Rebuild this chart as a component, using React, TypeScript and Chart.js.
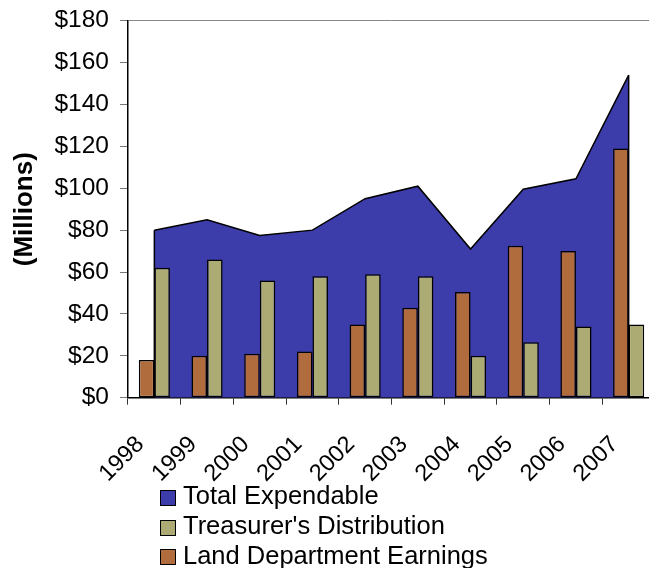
import React, { useEffect, useRef } from "react";
import { Chart, registerables } from "chart.js";

Chart.register(...registerables);

// ---- data ----
const years = ["1998", "1999", "2000", "2001", "2002", "2003", "2004", "2005", "2006", "2007"];
const totalExpendable = [80, 85, 77.5, 80, 95, 101, 71, 99.5, 104.5, 154];
const treasurerDistribution = [62, 66, 56, 58, 59, 58, 20, 26.5, 34, 35];
const landDepartmentEarnings = [18, 20, 21, 22, 35, 43, 50.5, 72.5, 70, 119];
const yMin = 0;
const yMax = 180;
const yStep = 20;

const seriesNames = ["Total Expendable", "Treasurer's Distribution", "Land Department Earnings"];

// ---- style ----
const BLUE = "#3c3caa";
const OLIVE = "#abab73";
const BROWN = "#b06c3c";
const FONT = "'Liberation Sans', Arial, sans-serif";

const areaEdges = {
  id: "areaEdges",
  afterDatasetDraw(chart: any, args: any) {
    if (args.index !== 0) return;
    const pts = args.meta.data;
    if (!pts || !pts.length) return;
    const base = chart.scales.y.getPixelForValue(0);
    const ctx = chart.ctx;
    const first = pts[0];
    const last = pts[pts.length - 1];
    ctx.save();
    ctx.strokeStyle = "#000";
    ctx.lineWidth = 1.5;
    ctx.beginPath();
    ctx.moveTo(first.x, base);
    ctx.lineTo(first.x, first.y);
    ctx.moveTo(last.x, last.y);
    ctx.lineTo(last.x, base);
    ctx.stroke();
    ctx.restore();
  },
};

export default function App() {
  const ref = useRef<HTMLCanvasElement | null>(null);

  useEffect(() => {
    if (!ref.current) return;
    const chart = new Chart(ref.current, {
      type: "bar",
      data: {
        labels: years,
        datasets: [
          {
            type: "line",
            label: seriesNames[0],
            data: totalExpendable,
            fill: "origin",
            backgroundColor: BLUE,
            borderColor: "#000",
            borderWidth: 1.5,
            pointRadius: 0,
            tension: 0,
            order: 2,
          } as any,
          {
            type: "bar",
            label: seriesNames[2],
            data: landDepartmentEarnings,
            backgroundColor: BROWN,
            borderColor: "#000",
            borderWidth: 1.5,
            borderSkipped: false,
            categoryPercentage: 0.59,
            barPercentage: 1,
            order: 1,
          },
          {
            type: "bar",
            label: seriesNames[1],
            data: treasurerDistribution,
            backgroundColor: OLIVE,
            borderColor: "#000",
            borderWidth: 1.5,
            borderSkipped: false,
            categoryPercentage: 0.59,
            barPercentage: 1,
            order: 1,
          },
        ],
      },
      options: {
        responsive: false,
        animation: false,
        layout: { padding: { top: 20.7, right: 1, left: 0, bottom: 0 } },
        plugins: {
          legend: { display: false },
          tooltip: { enabled: false },
        },
        scales: {
          x: {
            offset: true,
            grid: {
              offset: true,
              drawOnChartArea: false,
              tickLength: 7,
              tickColor: "#333",
            },
            border: { color: "#000", width: 1.5 },
            ticks: {
              autoSkip: false,
              maxRotation: 45,
              minRotation: 45,
              padding: 26,
              labelOffset: -14,
              color: "#000",
              font: { family: FONT, size: 23.5 },
            },
            afterFit: (scale: any) => {
              scale.height = 170.3;
              scale.paddingLeft = 0;
              scale.paddingRight = 0;
            },
          },
          y: {
            min: yMin,
            max: yMax,
            ticks: {
              stepSize: yStep,
              padding: 11,
              color: "#000",
              font: { family: FONT, size: 24.5 },
              callback: (v: any) => "$" + v,
            },
            grid: {
              drawOnChartArea: true,
              color: (c: any) => (c.tick && c.tick.value === yMax ? "#888" : "rgba(0,0,0,0)"),
              tickColor: "#777",
              tickLength: 8,
            },
            border: { color: "#000", width: 1.5 },
            title: {
              display: true,
              text: "(Millions)",
              color: "#000",
              padding: { top: 9, bottom: 0 },
              font: { family: FONT, size: 26, weight: "bold" },
            },
            afterFit: (scale: any) => {
              scale.width = 128;
              scale.paddingTop = 0;
              scale.paddingBottom = 0;
            },
          },
        },
      },
      plugins: [areaEdges],
    });
    return () => chart.destroy();
  }, []);

  const legendItems = [
    { name: seriesNames[0], color: BLUE },
    { name: seriesNames[1], color: OLIVE },
    { name: seriesNames[2], color: BROWN },
  ];

  return (
    <div
      style={{
        position: "fixed",
        left: 0,
        top: 0,
        width: 649,
        height: 568,
        overflow: "hidden",
        background: "#fff",
      }}
    >
      <canvas ref={ref} width={656} height={568} style={{ display: "block", width: 656, height: 568 }} />
      {legendItems.map((it, i) => (
        <React.Fragment key={it.name}>
          <div
            style={{
              position: "absolute",
              left: 160,
              top: 490 + i * 29.5,
              width: 16,
              height: 16,
              boxSizing: "border-box",
              border: "1.5px solid #000",
              background: it.color,
            }}
          />
          <div
            style={{
              position: "absolute",
              left: 183,
              top: 481 + i * 30,
              fontFamily: FONT,
              fontSize: 25.5,
              lineHeight: "29px",
              color: "#000",
              whiteSpace: "nowrap",
            }}
          >
            {it.name}
          </div>
        </React.Fragment>
      ))}
    </div>
  );
}
